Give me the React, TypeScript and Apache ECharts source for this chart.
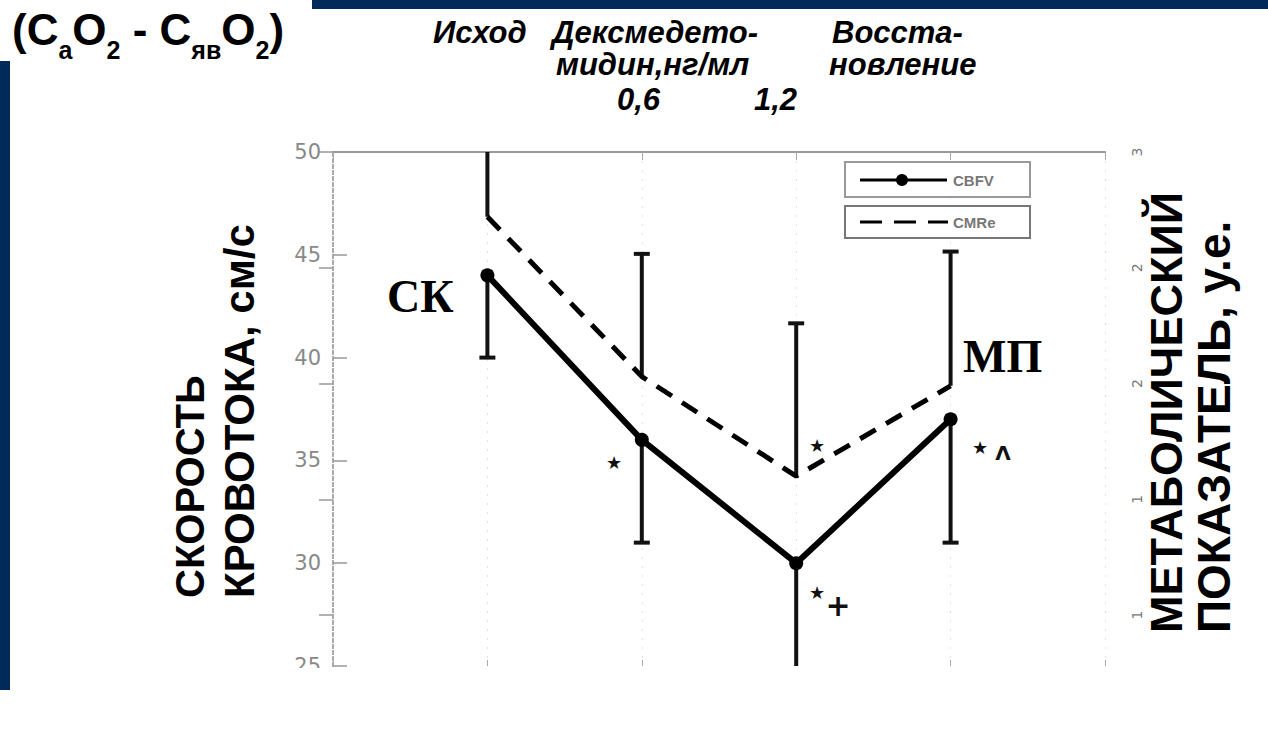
import React, { useEffect, useRef } from "react";
import * as echarts from "echarts";

// Stages on the x axis: 1 = Исход, 2 = 0,6 нг/мл, 3 = 1,2 нг/мл, 4 = Восстановление
const stages = [1, 2, 3, 4];
// CBFV, cm/s (left axis) and its lower error bound
const cbfv = [44, 36, 30, 37];
const cbfvLow = [40, 31, 24, 31];
// CMRe, a.u. (right axis) and its upper error bound
const cmre = [2.72, 2.03, 1.6, 1.99];
const cmreHigh = [3.3, 2.56, 2.26, 2.57];
// axis ticks
const rightTicks = [1, 1.5, 2, 2.5, 3];

const headerTexts = [
  { t: "Исход", x: 433, y: 32 },
  { t: "Дексмедето-", x: 552, y: 32 },
  { t: "мидин,нг/мл", x: 556, y: 64 },
  { t: "0,6", x: 617, y: 99 },
  { t: "1,2", x: 754, y: 99 },
  { t: "Восста-", x: 832, y: 32 },
  { t: "новление", x: 829, y: 64 },
];

const marks = [
  { t: "★", x: 614, y: 462, s: 18 },
  { t: "★", x: 817, y: 445, s: 18 },
  { t: "★", x: 817, y: 592, s: 18 },
  { t: "+", x: 838, y: 605, s: 30 },
  { t: "★", x: 980, y: 447, s: 18 },
  { t: "Λ", x: 1003, y: 453, s: 20 },
];

const NAVY = "#002a5a";

function errRender(params: any, api: any) {
  const x = api.value(0);
  const a = api.coord([x, api.value(1)]);
  const b = api.coord([x, api.value(2)]);
  const w = 8;
  const st = { stroke: "#111", lineWidth: 4 };
  return {
    type: "group",
    children: [
      { type: "line", shape: { x1: a[0], y1: a[1], x2: b[0], y2: b[1] }, style: st },
      { type: "line", shape: { x1: b[0] - w, y1: b[1], x2: b[0] + w, y2: b[1] }, style: st },
    ],
  };
}

export default function App() {
  const ref = useRef<HTMLDivElement>(null);
  useEffect(() => {
    document.body.style.margin = "0";
    const chart = echarts.init(ref.current!, null, { renderer: "svg" });
    const sans = "'Liberation Sans', Arial, sans-serif";
    const rot = (text: string, x: number, y: number, size: number) => ({
      type: "text", x, y, rotation: Math.PI / 2,
      style: { text, fontSize: size, fontWeight: "bold", fontFamily: sans, fill: "#000", align: "left", verticalAlign: "middle" },
      z: 100,
    });
    const graphic: any[] = [
      { type: "rect", shape: { x: 312, y: 0, width: 956, height: 9 }, style: { fill: NAVY }, z: 100 },
      { type: "rect", shape: { x: 0, y: 61, width: 10, height: 629 }, style: { fill: NAVY }, z: 100 },
      {
        type: "text",
        x: 12,
        y: 7,
        style: {
          text: "{b|(C}{s|a}{b|O}{s|2}{b| - C}{s|яв}{b|O}{s|2}{b|)}",
          verticalAlign: "top",
          rich: {
            b: { fontSize: 44, fontWeight: "bold", fontFamily: sans, fill: "#000", lineHeight: 50, verticalAlign: "top" },
            s: { fontSize: 25, fontWeight: "bold", fontFamily: sans, fill: "#000", lineHeight: 24, padding: [30, 0, 0, 0], verticalAlign: "top" },
          },
        },
        z: 100,
      },
      ...headerTexts.map((h) => ({
        type: "text",
        x: h.x,
        y: h.y,
        style: {
          text: h.t,
          fontSize: 31,
          fontWeight: "bold",
          fontStyle: "italic",
          fontFamily: sans,
          fill: "#000",
          verticalAlign: "middle",
        },
        z: 100,
      })),
      // axis titles
      rot("СКОРОСТЬ", 190, 598, 40),
      rot("КРОВОТОКА, см/с", 239, 598, 42),
      rot("МЕТАБОЛИЧЕСКИЙ", 1166, 633, 45),
      rot("ПОКАЗАТЕЛЬ, у.е.", 1214, 633, 46),
      // serif annotations
      {
        type: "text", x: 387, y: 296,
        style: { text: "СК", fontSize: 46, fontWeight: "bold", fontFamily: "'Liberation Serif', 'Times New Roman', serif", fill: "#000", verticalAlign: "middle" },
        z: 100,
      },
      {
        type: "text", x: 963, y: 356,
        style: { text: "МП", fontSize: 46, fontWeight: "bold", fontFamily: "'Liberation Serif', 'Times New Roman', serif", fill: "#000", verticalAlign: "middle" },
        z: 100,
      },
      ...marks.map((m) => ({
        type: "text", x: m.x, y: m.y,
        style: { text: m.t, fontSize: m.s, fontWeight: "bold", fontFamily: "'DejaVu Sans', sans-serif", fill: "#111", align: "center", verticalAlign: "middle" },
        z: 100,
      })),
      // legend boxes
      { type: "rect", shape: { x: 845, y: 162, width: 185, height: 35 }, style: { fill: "#fff", stroke: "#999", lineWidth: 2 }, z: 90 },
      { type: "line", shape: { x1: 860, y1: 180, x2: 947, y2: 180 }, style: { stroke: "#000", lineWidth: 3 }, z: 91 },
      { type: "circle", shape: { cx: 902, cy: 180, r: 6 }, style: { fill: "#000" }, z: 91 },
      {
        type: "text", x: 953, y: 180,
        style: { text: "CBFV", fontSize: 15, fontWeight: "bold", fontFamily: sans, fill: "#777", verticalAlign: "middle" },
        z: 91,
      },
      { type: "rect", shape: { x: 845, y: 206, width: 185, height: 32 }, style: { fill: "#fff", stroke: "#777", lineWidth: 2 }, z: 90 },
      { type: "line", shape: { x1: 860, y1: 222, x2: 948, y2: 222 }, style: { stroke: "#000", lineWidth: 3, lineDash: [22, 12] }, z: 91 },
      {
        type: "text", x: 953, y: 222,
        style: { text: "CMRe", fontSize: 15, fontWeight: "bold", fontFamily: sans, fill: "#777", verticalAlign: "middle" },
        z: 91,
      },
      // crop of the original picture below the plot
      { type: "rect", shape: { x: 12, y: 668, width: 1256, height: 80 }, style: { fill: "#fff" }, z: 95 },
    ];

    const option: any = {
      animation: false,
      backgroundColor: "#fff",
      grid: { left: 333, right: 163, top: 152, bottom: 82 },
      xAxis: [
        {
          type: "value", position: "bottom", min: 0, max: 5, interval: 1,
          axisLine: { show: false },
          axisTick: { show: true, inside: true, length: 6, lineStyle: { color: "#aaa" } },
          axisLabel: { show: false },
          splitLine: { show: true, lineStyle: { color: "#e2e2e2", type: [2, 7], width: 1 } },
        },
        {
          type: "value", position: "top", min: 0, max: 5, interval: 1,
          axisLine: { show: true, onZero: false, lineStyle: { color: "#999", width: 2 } },
          axisTick: { show: true, inside: true, length: 8, lineStyle: { color: "#aaa" } },
          axisLabel: { show: false },
          splitLine: { show: false },
        },
      ],
      yAxis: [
        {
          type: "value", position: "left", min: 25, max: 50, interval: 5,
          axisLine: { show: true, lineStyle: { color: "#aaa", type: [3, 3], width: 2 } },
          axisTick: { show: true, inside: true, length: 14, lineStyle: { color: "#999", width: 1.5 } },
          axisLabel: { color: "#888", fontSize: 21, fontFamily: "'DejaVu Sans', sans-serif", margin: 12 },
          splitLine: { show: false },
        },
        {
          type: "value", position: "right", min: 0.78, max: 3,
          axisLine: { show: true, lineStyle: { color: "#aaa", type: [3, 3], width: 2 } },
          axisTick: { show: true, inside: true, length: 14, customValues: rightTicks, lineStyle: { color: "#999", width: 1.5 } },
          axisLabel: {
            customValues: rightTicks,
            rotate: 90,
            color: "#777", fontSize: 14, fontFamily: "'DejaVu Sans', sans-serif", margin: 25,
            formatter: (v: number) => String(Math.floor(v)),
          },
          splitLine: { show: false },
        },
      ],
      series: [
        {
          name: "CBFV SD", type: "custom", xAxisIndex: 0, yAxisIndex: 0, clip: true,
          renderItem: errRender,
          data: stages.map((x, i) => [x, cbfv[i], cbfvLow[i]]),
          z: 2,
        },
        {
          name: "CMRe SD", type: "custom", xAxisIndex: 0, yAxisIndex: 1, clip: true,
          renderItem: errRender,
          data: stages.map((x, i) => [x, cmre[i], cmreHigh[i]]),
          z: 2,
        },
        {
          name: "CMRe", type: "line", xAxisIndex: 0, yAxisIndex: 1,
          data: stages.map((x, i) => [x, cmre[i]]),
          symbol: "none",
          lineStyle: { color: "#000", width: 5, type: [18, 12] },
          z: 3,
        },
        {
          name: "CBFV", type: "line", xAxisIndex: 0, yAxisIndex: 0,
          data: stages.map((x, i) => [x, cbfv[i]]),
          symbol: "circle", symbolSize: 14,
          itemStyle: { color: "#000" },
          lineStyle: { color: "#000", width: 6 },
          z: 4,
        },
      ],
      graphic,
    };
    chart.setOption(option);
    return () => chart.dispose();
  }, []);
  return <div ref={ref} style={{ width: 1268, height: 748 }} />;
}
